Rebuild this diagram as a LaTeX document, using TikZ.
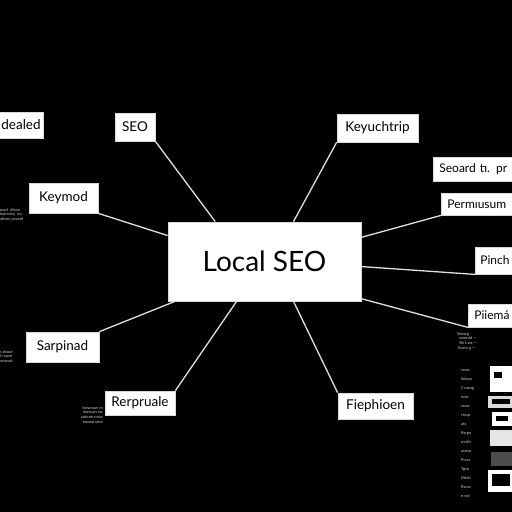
\documentclass[tikz,border=0pt]{standalone}
\usepackage{fontspec}
\setmainfont{Lato}

\begin{document}
\begin{tikzpicture}[
      x=1pt,y=-1pt,
      box/.style={
        draw=black!15,fill=white,text=black,line width=0.8pt,inner sep=0pt,
        font=\fontsize{13.5}{15}\selectfont
      },
      cut/.style={box,anchor=west,align=left,inner xsep=6pt,font=\fontsize{12}{14}\selectfont},
      link/.style={draw=white!88!black,line width=1.3pt},
      tinytext/.style={
        text=white!82!black,inner sep=0pt,font=\fontsize{4}{4.8}\selectfont
      },
    ]
    \fill[black] (0,0) rectangle (512,512);
    \clip (0,0) rectangle (512,512);
    % central box
    \node[box,minimum width=193,minimum height=79,font=\fontsize{28}{30}\selectfont] (local) at (264.5,261.5) {Local SEO};
    % left side
    \node[box,minimum width=48,minimum height=26] (dealed) at (19,125) {\hspace{4pt}dealed};
    \node[box,minimum width=40,minimum height=28] (seo) at (135,127) {SEO};
    \node[box,minimum width=69,minimum height=30] (keymod) at (63.5,198) {Keymod};
    \node[box,minimum width=73,minimum height=30] (sarp) at (62.5,347) {Sarpinad};
    \node[box,minimum width=70,minimum height=24] (rerp) at (140,403) {Rerpruale};
    % right side
    \node[box,minimum width=81,minimum height=28] (keyuch) at (377.5,128) {Keyuchtrip};
    \node[box,minimum width=75,minimum height=26] (fieph) at (375.5,406) {Fiephioen};
    \node[cut,text width=90,minimum height=24] (seoard) at (433,169) {Seoard tı. pr};
    \node[cut,text width=80,minimum height=22] (permus) at (441,204) {Permıusum};
    \node[cut,text width=50,minimum height=27,inner xsep=5pt] (pinch) at (475,260.5) {Pinch};
    \node[cut,text width=55,minimum height=23] (piiem) at (468,315.5) {Piiemá};
    % connectors
    \draw[link] (seo.south east) -- (local.141);
    \draw[link] (keyuch.south west) -- (local.54);
    \draw[link] (keymod.south east) -- (local.165);
    \draw[link] (permus.south west) -- (local.14);
    \draw[link] (pinch.south west) -- (local.-3);
    \draw[link] (piiem.south west) -- (local.-21);
    \draw[link] (sarp.north east) -- (local.204);
    \draw[link] (rerp.north east) -- (local.235);
    \draw[link] (fieph.north west) -- (local.306);
    % small print
    \node[tinytext,anchor=north west,align=left] (notea) at (0,208) {owcl \ dtrpn\\ koirrsisq \ rsv\\ ahsnn psvetd};
    \node[tinytext,anchor=north west,align=left] (noteb) at (0,350) {s dvoor\\ t rsove\\ srsowd};
    \node[tinytext,anchor=north east,align=right] (notec) at (103,406) {lsownaw rn\\ inowwn sw\\ sotonn rnsw\\ eoooo stno};
    \node[tinytext,anchor=north west,align=left] (noted) at (457,332) {Seosrg\\ \ \ wsontd ---\\ \ \ Sle Lsss ---\\ \ Sustn g ---};
    \foreach \i/\w in {0/rsosr,1/Sdsop,2/Ccnsog,3/oosr,4/rsow,5/rtsvp,6/ats,7/Rsrgn,8/ovsth,9/asoso,10/Prsvs,11/Tgsn,12/Ddstr,13/Rsnss,14/{e.rsd}}
      \node[tinytext,anchor=west] (col\i) at (461,{370+\i*9}) {\w};
    % thumbnails
    \fill[white] (490,366) rectangle (512,392);
    \fill[white!85!black] (488,396) rectangle (512,408);
    \fill[white] (492,412) rectangle (512,426);
    \fill[white!90!black] (490,430) rectangle (512,446);
    \fill[white!30!black] (491,452) rectangle (512,466);
    \fill[white] (488,470) rectangle (512,492);
    \fill[black] (494,372) rectangle (502,378);
    \fill[black] (492,399) rectangle (510,404);
    \fill[black] (496,416) rectangle (508,421);
    \fill[black] (492,474) rectangle (510,486);
\end{tikzpicture}
\end{document}
